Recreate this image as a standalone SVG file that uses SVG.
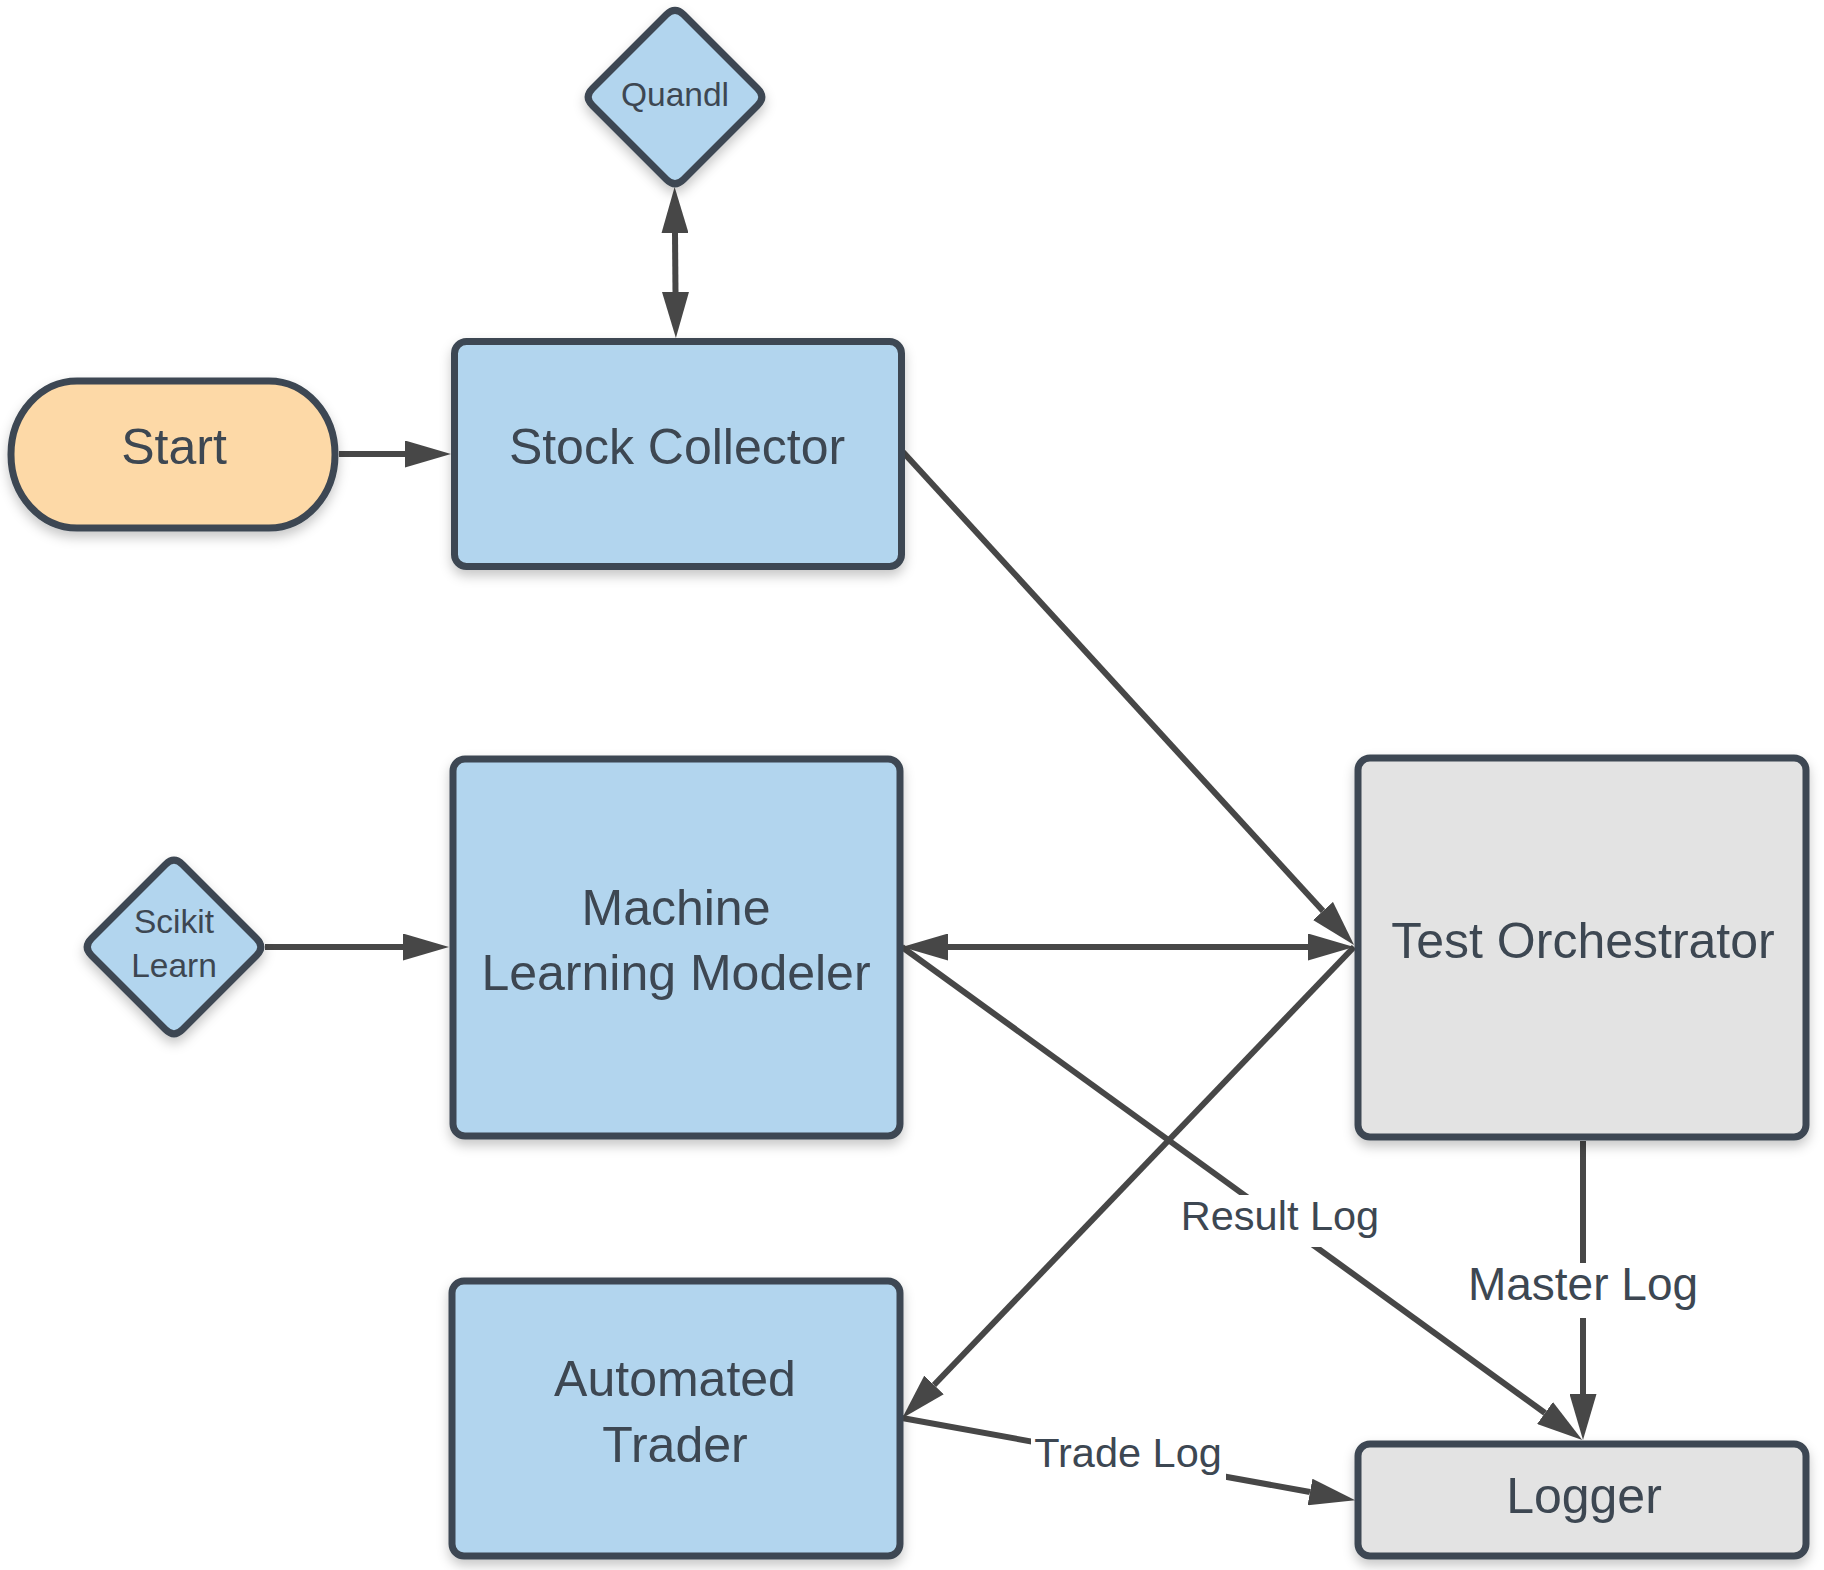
<svg xmlns="http://www.w3.org/2000/svg" width="1824" height="1570" viewBox="0 0 1824 1570">
<style>
.node{stroke:#3d4752;stroke-width:7;stroke-linejoin:round}
.blue{fill:#b2d5ee}
.gray{fill:#e3e3e3}
.orange{fill:#fdd9a7}
.t{font-family:"Liberation Sans",Arial,sans-serif;fill:#3d4752;text-anchor:middle}
.big{font-size:50px}
.small{font-size:33.5px}
.lbl{font-family:"Liberation Sans",Arial,sans-serif;fill:#3d4752;text-anchor:middle;font-size:41.5px}
.edge{stroke:#474747;stroke-width:6;fill:none}
.lblbg{fill:#ffffff}
</style>
<defs>
<filter id="sh" x="-10%" y="-10%" width="120%" height="130%">
<feDropShadow dx="0" dy="6" stdDeviation="6" flood-color="#000" flood-opacity="0.22"/>
</filter>
<marker id="ah" viewBox="0 0 46 27" refX="0" refY="13.5" markerWidth="46" markerHeight="27" markerUnits="userSpaceOnUse" orient="auto-start-reverse">
<path d="M0,0 L46,13.5 L0,27 Z" fill="#474747"/>
</marker>
</defs>
<rect width="1824" height="1570" fill="#ffffff"/>

<g id="connectors">
<line class="edge" x1="339" y1="454" x2="405" y2="454" marker-end="url(#ah)"/>
<line class="edge" x1="675" y1="233" x2="675.5" y2="292" marker-start="url(#ah)" marker-end="url(#ah)"/>
<line class="edge" x1="903" y1="452" x2="1323" y2="911" marker-end="url(#ah)"/>
<line class="edge" x1="948" y1="947" x2="1308" y2="947" marker-start="url(#ah)" marker-end="url(#ah)"/>
<line class="edge" x1="265" y1="947" x2="403" y2="947" marker-end="url(#ah)"/>
<line class="edge" x1="1354" y1="947" x2="934" y2="1385" marker-end="url(#ah)"/>
<line class="edge" x1="902" y1="947" x2="1545" y2="1413" marker-end="url(#ah)"/>
<line class="edge" x1="1583" y1="1141" x2="1583" y2="1394" marker-end="url(#ah)"/>
<line class="edge" x1="902" y1="1418" x2="1310" y2="1492" marker-end="url(#ah)"/>
<rect class="lblbg" x="1178" y="1195" width="204" height="52"/>
<text class="lbl" x="1280" y="1230">Result Log</text>
<rect class="lblbg" x="1462" y="1263" width="242" height="55"/>
<text class="lbl" x="1583" y="1300" style="font-size:46px">Master Log</text>
<rect class="lblbg" x="1031" y="1431" width="195" height="49"/>
<text class="lbl" x="1128" y="1467">Trade Log</text>
</g>

<g id="start">
<rect class="node orange" x="11" y="381" width="324" height="147" rx="66" ry="73" filter="url(#sh)"/>
<text class="t big" x="174" y="464">Start</text>
</g>

<g id="stock-collector">
<rect class="node blue" x="454.5" y="341.5" width="447" height="225" rx="12" filter="url(#sh)"/>
<text class="t big" x="677" y="464">Stock Collector</text>
</g>

<g id="quandl">
<path class="node blue" filter="url(#sh)" d="M666.5,14.5 Q675,6 683.5,14.5 L757.5,88.5 Q766,97 757.5,105.5 L683.5,179.5 Q675,188 666.5,179.5 L592.5,105.5 Q584,97 592.5,88.5 Z"/>
<text class="t small" x="675" y="106">Quandl</text>
</g>

<g id="scikit-learn">
<path class="node blue" filter="url(#sh)" d="M165.5,864.5 Q174,856 182.5,864.5 L256.5,938.5 Q265,947 256.5,955.5 L182.5,1029.5 Q174,1038 165.5,1029.5 L91.5,955.5 Q83,947 91.5,938.5 Z"/>
<text class="t small" x="174" y="933">Scikit</text>
<text class="t small" x="174" y="977">Learn</text>
</g>

<g id="ml-modeler">
<rect class="node blue" x="453" y="759" width="447" height="377" rx="12" filter="url(#sh)"/>
<text class="t big" x="676" y="925">Machine</text>
<text class="t big" x="676" y="990">Learning Modeler</text>
</g>

<g id="test-orchestrator">
<rect class="node gray" x="1358" y="758" width="448" height="379" rx="12" filter="url(#sh)"/>
<text class="t big" x="1583" y="958">Test Orchestrator</text>
</g>

<g id="automated-trader">
<rect class="node blue" x="452" y="1281" width="448" height="275" rx="12" filter="url(#sh)"/>
<text class="t big" x="675" y="1396">Automated</text>
<text class="t big" x="675" y="1462">Trader</text>
</g>

<g id="logger">
<rect class="node gray" x="1358" y="1444" width="448" height="112" rx="12" filter="url(#sh)"/>
<text class="t big" x="1584" y="1513">Logger</text>
</g>
</svg>
